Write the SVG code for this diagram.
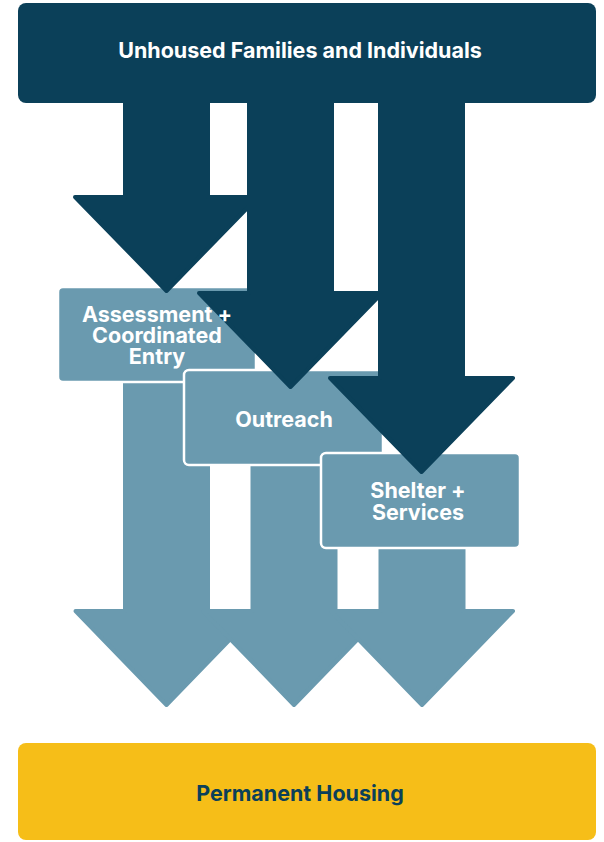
<svg xmlns="http://www.w3.org/2000/svg" width="604" height="842" viewBox="0 0 604 842">
<style>
.dark{fill:#0b4059;stroke:#0b4059;stroke-width:4;stroke-linejoin:round}
.light{fill:#6a9aaf;stroke:#6a9aaf;stroke-width:4;stroke-linejoin:round}
.box{fill:#6a9aaf;stroke:#ffffff;stroke-width:2.5}
.lbl{font-family:Inter,"Noto Sans",sans-serif;font-weight:700;font-size:21.5px;fill:#ffffff;text-anchor:middle}
.big{font-family:Inter,"Noto Sans",sans-serif;font-weight:700;font-size:21.5px;text-anchor:middle}
</style>
<rect width="604" height="842" fill="#ffffff"/>
<g id="connectors">
<g id="light-arrows">
<polygon class="light" points="125,300 125,611 75.5,611 166.5,705 257.5,611 208,611 208,300"/>
<polygon class="light" points="252.5,380 252.5,611 203,611 294,705 385,611 335.5,611 335.5,380"/>
<polygon class="light" points="380.5,460 380.5,611 331,611 422,705 513,611 463.5,611 463.5,460"/>
</g>
</g>
<g id="assessment">
<rect class="box" x="58" y="287" width="198" height="95" rx="5"/>
</g>
<g id="outreach">
<rect class="box" x="184" y="370" width="199" height="95" rx="5"/>
</g>
<g id="shelter">
<rect class="box" x="321" y="453" width="199" height="95" rx="5"/>
</g>
<g id="connectors-dark">
<polygon class="dark" points="125,60 125,197 75,197 166.5,291 258,197 208,197 208,60"/>
<polygon class="dark" points="249,60 249,293 199,293 290.5,387 382,293 332,293 332,60"/>
<polygon class="dark" points="380,60 380,378 330,378 421.5,472 513,378 463,378 463,60"/>
</g>
<g id="assessment-label">
<text class="lbl" x="157" y="322">Assessment +</text>
<text class="lbl" x="157" y="343">Coordinated</text>
<text class="lbl" x="157" y="364">Entry</text>
</g>
<g id="outreach-label">
<text class="lbl" x="284" y="427">Outreach</text>
</g>
<g id="shelter-label">
<text class="lbl" x="418" y="498">Shelter +</text>
<text class="lbl" x="418" y="520">Services</text>
</g>
<g id="unhoused">
<rect x="18" y="3" width="578" height="100" rx="8" fill="#0b4059"/>
<text class="big" x="300" y="58" fill="#ffffff">Unhoused Families and Individuals</text>
</g>
<g id="housing">
<rect x="18" y="743" width="578" height="97" rx="8" fill="#f6be18"/>
<text class="big" x="300" y="801" fill="#0b4059">Permanent Housing</text>
</g>
</svg>
